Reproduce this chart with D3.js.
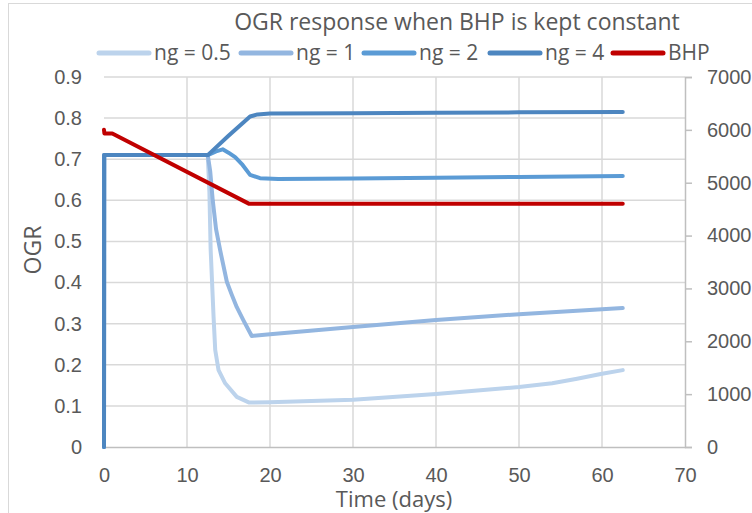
<!DOCTYPE html>
<html>
<head>
<meta charset="utf-8">
<script src="https://cdn.jsdelivr.net/npm/d3@7"></script>
<style>
  body { margin: 0; background: #fff; }
  svg { display: block; font-family: "Open Sans", sans-serif; }
</style>
</head>
<body>
<svg></svg>
<script>
// Series data (time in days)
const ng05Time = [0, 0.02, 12.5, 12.7, 12.85, 13.2, 13.4, 13.8, 14.6, 16, 17.5, 20, 30, 40, 50, 54, 57, 60, 62.5];
const ng05OGR  = [0, 0.71, 0.71, 0.62, 0.48, 0.317, 0.236, 0.187, 0.155, 0.122, 0.108, 0.109, 0.115, 0.129, 0.146, 0.155, 0.166, 0.178, 0.187];

const ng1Time = [0, 0.02, 12.5, 12.8, 13.1, 13.5, 14, 14.8, 15.4, 16, 16.8, 17.8, 20, 30, 40, 50, 60, 62.5];
const ng1OGR  = [0, 0.71, 0.71, 0.67, 0.6, 0.53, 0.478, 0.402, 0.37, 0.34, 0.308, 0.27, 0.274, 0.292, 0.309, 0.323, 0.335, 0.338];

const ng2Time = [0, 0.02, 12.5, 13.5, 14.3, 15, 15.8, 16.7, 17.6, 18.8, 21, 30, 40, 50, 62.5];
const ng2OGR  = [0, 0.71, 0.71, 0.719, 0.724, 0.716, 0.705, 0.686, 0.662, 0.654, 0.652, 0.653, 0.655, 0.657, 0.659];

const ng4Time = [0, 0.02, 12.5, 15, 17.6, 18.5, 20, 30, 40, 50, 62.5];
const ng4OGR  = [0, 0.71, 0.71, 0.757, 0.804, 0.809, 0.811, 0.812, 0.813, 0.814, 0.815];

const bhpTime = [0, 0.05, 1, 17.5, 62.5];
const bhpValue = [6000, 5930, 5930, 4600, 4600];

const seriesNames = ["ng = 0.5", "ng = 1", "ng = 2", "ng = 4", "BHP"];
const seriesColors = ["#bcd3ec", "#93b6e0", "#5b9bd5", "#4d86c0", "#c00000"];

const xTicks = [0, 10, 20, 30, 40, 50, 60, 70];
const yTicks = [0, 0.1, 0.2, 0.3, 0.4, 0.5, 0.6, 0.7, 0.8, 0.9];
const y2Ticks = [0, 1000, 2000, 3000, 4000, 5000, 6000, 7000];

// Layout
const width = 752, height = 513;
const margin = { top: 77, right: 67, bottom: 66, left: 104 };
const w = width - margin.left - margin.right;
const h = height - margin.top - margin.bottom;
const textColor = "#595959";
const gridColor = "#d9d9d9";

const svg = d3.select("svg")
    .attr("width", width)
    .attr("height", height);

// chart area border
svg.append("rect")
    .attr("x", 8.5).attr("y", 3.5)
    .attr("width", 800).attr("height", 600)
    .attr("fill", "none")
    .attr("stroke", gridColor);

const g = svg.append("g")
    .attr("transform", `translate(${margin.left},${margin.top})`);

// Scales
const xScale = d3.scaleLinear().domain([0, 70]).range([0, w]);
const yScale = d3.scaleLinear().domain([0, 0.9]).range([h, 0]);
const y2Scale = d3.scaleLinear().domain([0, 7000]).range([h, 0]);

// Gridlines
g.append("g").selectAll("line")
    .data(yTicks.slice(1))
    .join("line")
    .attr("x1", 0).attr("x2", w)
    .attr("y1", d => yScale(d)).attr("y2", d => yScale(d))
    .attr("stroke", gridColor).attr("stroke-width", 1.5);

g.append("g").selectAll("line")
    .data(xTicks.slice(1, -1))
    .join("line")
    .attr("x1", d => xScale(d)).attr("x2", d => xScale(d))
    .attr("y1", 0).attr("y2", h)
    .attr("stroke", gridColor).attr("stroke-width", 1.5);

// Axes
const xAxis = g.append("g")
    .attr("transform", `translate(0,${h})`)
    .call(d3.axisBottom(xScale).tickValues(xTicks).tickSize(0).tickPadding(21));

const yAxis = g.append("g")
    .call(d3.axisLeft(yScale).tickValues(yTicks).tickSize(0).tickPadding(22)
        .tickFormat(d => d === 0 ? "0" : d3.format(".1f")(d)));

const y2Axis = g.append("g")
    .attr("transform", `translate(${w},0)`)
    .call(d3.axisRight(y2Scale).tickValues(y2Ticks).tickSize(7).tickPadding(15)
        .tickFormat(d3.format("d")));

[xAxis, yAxis, y2Axis].forEach(ax => {
    ax.selectAll("text").attr("fill", textColor).style("font-size", "20px");
    ax.selectAll("line").attr("stroke", "#bfbfbf").attr("stroke-width", 1.5);
});
xAxis.select(".domain").attr("stroke", "#bfbfbf").attr("stroke-width", 1.5);
yAxis.select(".domain").remove();
y2Axis.select(".domain").attr("stroke", "#bfbfbf").attr("stroke-width", 1.5);

// Lines
const ogrLine = d3.line()
    .x(d => xScale(d[0]))
    .y(d => yScale(d[1]));
const bhpLine = d3.line()
    .x(d => xScale(d[0]))
    .y(d => y2Scale(d[1]));

const ogrSeries = [
    d3.zip(ng05Time, ng05OGR),
    d3.zip(ng1Time, ng1OGR),
    d3.zip(ng2Time, ng2OGR),
    d3.zip(ng4Time, ng4OGR)
];

ogrSeries.forEach((data, i) => {
    g.append("path")
        .datum(data)
        .attr("d", ogrLine)
        .attr("fill", "none")
        .attr("stroke", seriesColors[i])
        .attr("stroke-width", 4)
        .attr("stroke-linejoin", "round")
        .attr("stroke-linecap", "round");
});

g.append("path")
    .datum(d3.zip(bhpTime, bhpValue))
    .attr("d", bhpLine)
    .attr("fill", "none")
    .attr("stroke", seriesColors[4])
    .attr("stroke-width", 4)
    .attr("stroke-linejoin", "round")
    .attr("stroke-linecap", "round");

// Title
svg.append("text")
    .attr("x", 457).attr("y", 30)
    .attr("text-anchor", "middle")
    .attr("fill", textColor)
    .style("font-size", "23px")
    .text("OGR response when BHP is kept constant");

// Legend
const legendX = [97, 239, 362, 488, 611];
const legend = svg.append("g");
seriesNames.forEach((name, i) => {
    legend.append("line")
        .attr("x1", legendX[i] + 2).attr("x2", legendX[i] + 52)
        .attr("y1", 53).attr("y2", 53)
        .attr("stroke", seriesColors[i])
        .attr("stroke-width", 5)
        .attr("stroke-linecap", "round");
    legend.append("text")
        .attr("x", legendX[i] + 57).attr("y", 60)
        .attr("fill", textColor)
        .style("font-size", "21px")
        .text(name);
});

// Axis titles
svg.append("text")
    .attr("transform", "translate(41,250) rotate(-90)")
    .attr("text-anchor", "middle")
    .attr("fill", textColor)
    .style("font-size", "23px")
    .text("OGR");

svg.append("text")
    .attr("x", 394).attr("y", 507)
    .attr("text-anchor", "middle")
    .attr("fill", textColor)
    .style("font-size", "22px")
    .text("Time (days)");
</script>
</body>
</html>
